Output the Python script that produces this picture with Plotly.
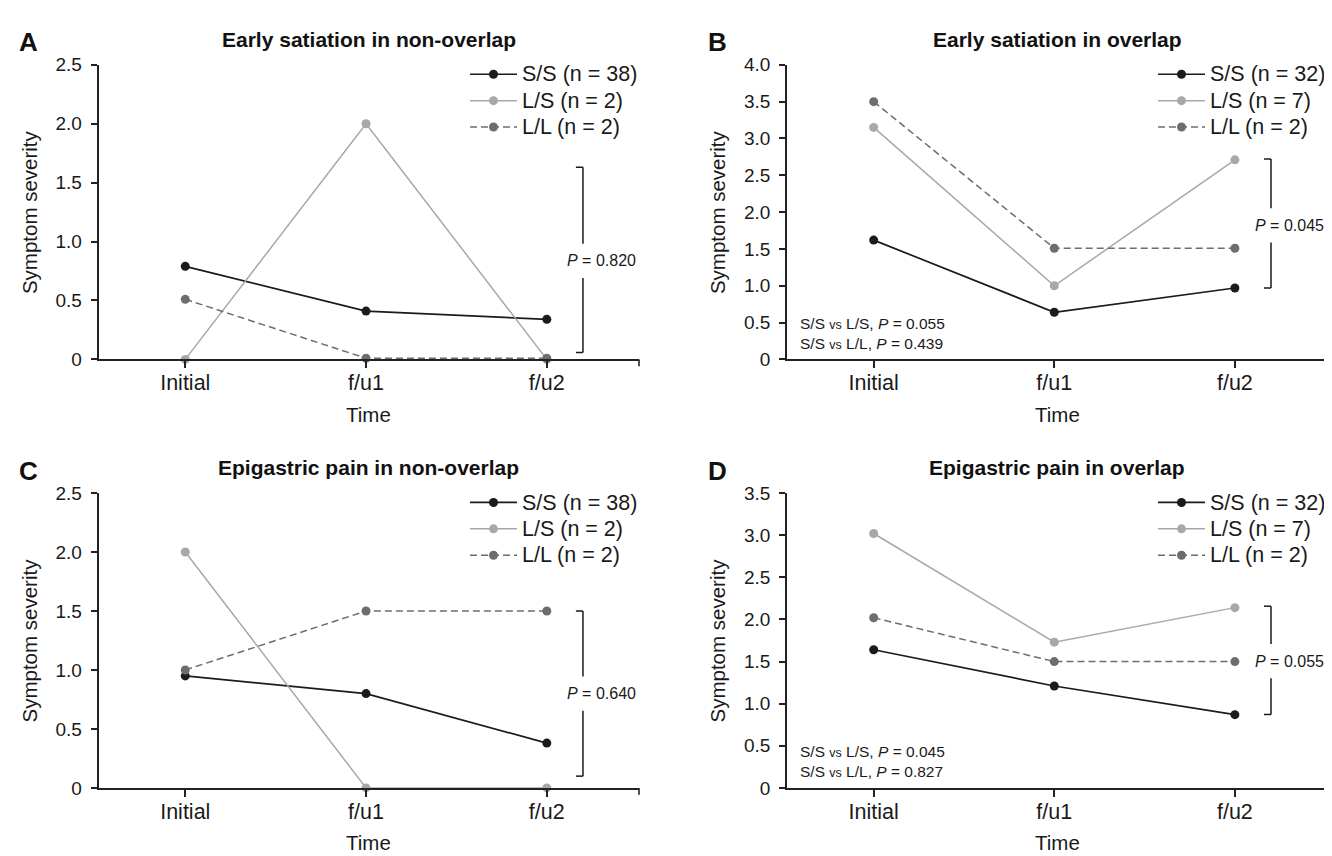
import plotly.graph_objects as go

# ---------------- data ----------------
times = ["Initial", "f/u1", "f/u2"]
groups = ["S/S", "L/S", "L/L"]
n_nonoverlap = [38, 2, 2]
n_overlap = [32, 7, 2]

# A: Early satiation in non-overlap
a_ss = [0.79, 0.41, 0.34]
a_ls = [0.0, 2.0, 0.0]
a_ll = [0.51, 0.01, 0.01]
# B: Early satiation in overlap
b_ss = [1.62, 0.64, 0.97]
b_ls = [3.15, 1.00, 2.71]
b_ll = [3.50, 1.51, 1.51]
# C: Epigastric pain in non-overlap
c_ss = [0.95, 0.80, 0.38]
c_ls = [2.0, 0.0, 0.0]
c_ll = [1.0, 1.5, 1.5]
# D: Epigastric pain in overlap
d_ss = [1.64, 1.21, 0.87]
d_ls = [3.02, 1.73, 2.14]
d_ll = [2.02, 1.50, 1.50]

titles = ["Early satiation in non-overlap", "Early satiation in overlap",
          "Epigastric pain in non-overlap", "Epigastric pain in overlap"]
letters = ["A", "B", "C", "D"]
ymax = [2.5, 4.0, 2.5, 3.5]
p_overall = ["0.820", "0.045", "0.640", "0.055"]
# bracket: top, bottom, label level
br_top = [1.63, 2.72, 1.50, 2.157]
br_bot = [0.058, 0.97, 0.10, 0.872]
br_lab = [0.836, 1.82, 0.80, 1.505]
pair_p_ls = [None, "0.055", None, "0.045"]
pair_p_ll = [None, "0.439", None, "0.827"]

panels = [
    (a_ss, a_ls, a_ll, n_nonoverlap),
    (b_ss, b_ls, b_ll, n_overlap),
    (c_ss, c_ls, c_ll, n_nonoverlap),
    (d_ss, d_ls, d_ll, n_overlap),
]

# ---------------- styling ----------------
W, H = 1332, 856
FONT = "Liberation Sans, Arial, Helvetica, sans-serif"
colors = ["#1b1b1b", "#a8a8a8", "#6d6d6d"]
dashes = ["solid", "solid", "7px,4px"]
widths = [1.7, 1.5, 1.5]
AX = "#222222"

xdom = [[90.5 / W, 631 / W], [779 / W, 1319 / W]]
ytop_px = [48, 487]
ybot_px = [350, 789.3]
ydom = [[1 - ybot_px[r] / H, 1 - ytop_px[r] / H] for r in range(2)]
xrange_ = [-0.48, 2.51]
BR_X = 2.2
P_X = 2.3
GAP_PX = 17.5
letter_x = [21, 709.5]
ytitle_x = [21, 709]
legend_x = [457, 1145]

fig = go.Figure()
annotations = []
shapes = []
layout_axes = {}

for i, (ss, ls, ll, ns) in enumerate(panels):
    col = i % 2
    row = i // 2
    k = "" if i == 0 else str(i + 1)
    xa, ya = "x" + k, "y" + k
    leg = "legend" if i == 0 else "legend" + str(i + 1)
    for g, vals in enumerate([ss, ls, ll]):
        fig.add_trace(go.Scatter(
            x=times, y=vals, xaxis=xa, yaxis=ya, mode="lines+markers",
            name=f"<span style='font-size:21.5px'>{groups[g]} (n = {ns[g]})</span>",
            line=dict(color=colors[g], width=widths[g], dash=dashes[g]),
            marker=dict(color=colors[g], size=9),
            cliponaxis=False, legend=leg, showlegend=True,
        ))
    tv = [j * 0.5 for j in range(int(ymax[i] / 0.5) + 1)]
    tt = ["0" if v == 0 else f"{v:.1f}" for v in tv]
    layout_axes["xaxis" + k] = dict(
        domain=xdom[col], anchor=ya, type="category", range=xrange_,
        showline=True, linecolor=AX, linewidth=1.6,
        ticks="outside", ticklen=7, tickcolor=AX, tickwidth=1.6,
        ticklabelstandoff=-4,
        showgrid=False, zeroline=False, fixedrange=True,
        tickfont=dict(size=21.5, color="#1a1a1a", family=FONT),
    )
    layout_axes["yaxis" + k] = dict(
        domain=ydom[row], anchor=xa, range=[0, ymax[i]],
        tickvals=tv, ticktext=tt,
        showline=True, linecolor=AX, linewidth=1.6,
        ticks="outside", ticklen=6, tickcolor=AX, tickwidth=1.6,
        ticklabelstandoff=5,
        showgrid=False, zeroline=False, fixedrange=True,
        tickfont=dict(size=19, color="#1a1a1a", family=FONT),
    )
    x0, x1 = xdom[col]
    y0, y1 = ydom[row]
    xc = (x0 + x1) / 2
    yc = (y0 + y1) / 2
    top_px = ytop_px[row]
    bot_px = ybot_px[row]
    # end tick on x axis
    shapes.append(dict(type="line", xref=xa + " domain", yref="paper",
                       x0=1, x1=1, y0=y0, y1=y0 - 7 / H,
                       line=dict(color=AX, width=1.6)))
    # panel letter
    annotations.append(dict(text=f"<b>{letters[i]}</b>", xref="paper", yref="paper",
                            x=letter_x[col] / W, y=1 - (top_px - 23) / H,
                            showarrow=False, xanchor="center", yanchor="middle",
                            font=dict(size=26, family=FONT, color="#111")))
    annotations.append(dict(text=f"<b>{titles[i]}</b>", xref="paper", yref="paper",
                            x=xc, y=1 - (top_px - 26.3) / H, showarrow=False,
                            xanchor="center", yanchor="middle",
                            font=dict(size=21, family=FONT, color="#111")))
    annotations.append(dict(text="Symptom severity", xref="paper", yref="paper",
                            x=ytitle_x[col] / W, y=yc, textangle=-90,
                            showarrow=False, xanchor="center", yanchor="middle",
                            font=dict(size=20.5, family=FONT, color="#1a1a1a")))
    annotations.append(dict(text="Time", xref="paper", yref="paper",
                            x=xc, y=1 - (bot_px + 56) / H, showarrow=False,
                            xanchor="center", yanchor="middle",
                            font=dict(size=20.5, family=FONT, color="#1a1a1a")))
    # bracket
    px_per_unit = (bot_px - top_px) / ymax[i]
    gap = GAP_PX / px_per_unit
    tick = 0.039
    line = dict(color="#1a1a1a", width=1.5)
    shapes += [
        dict(type="line", xref=xa, yref=ya, x0=BR_X, x1=BR_X, y0=br_lab[i] + gap, y1=br_top[i], line=line),
        dict(type="line", xref=xa, yref=ya, x0=BR_X, x1=BR_X, y0=br_bot[i], y1=br_lab[i] - gap, line=line),
        dict(type="line", xref=xa, yref=ya, x0=BR_X - tick, x1=BR_X, y0=br_top[i], y1=br_top[i], line=line),
        dict(type="line", xref=xa, yref=ya, x0=BR_X - tick, x1=BR_X, y0=br_bot[i], y1=br_bot[i], line=line),
    ]
    annotations.append(dict(text=f"<i>P</i> = {p_overall[i]}", xref=xa, yref=ya,
                            x=P_X, y=br_lab[i], showarrow=False,
                            xanchor="center", yanchor="middle",
                            font=dict(size=16, family=FONT, color="#1a1a1a")))
    if pair_p_ls[i]:
        vs = "<span style='font-size:12.5px'>vs</span>"
        txt = (f"S/S {vs} L/S, <i>P</i> = {pair_p_ls[i]}<br>"
               f"S/S {vs} L/L, <i>P</i> = {pair_p_ll[i]}")
        annotations.append(dict(text=txt, xref=xa + " domain", yref=ya + " domain",
                                x=0.02, y=0.02, showarrow=False, align="left",
                                xanchor="left", yanchor="bottom",
                                font=dict(size=15.5, family=FONT, color="#1a1a1a")))
    layout_axes[leg] = dict(
        x=legend_x[col] / W, y=1 - (top_px - 9) / H,
        xanchor="left", yanchor="top", bgcolor="rgba(0,0,0,0)",
        font=dict(size=18, family=FONT, color="#1a1a1a"),
        itemwidth=47, tracegroupgap=0,
    )

fig.update_layout(
    width=W, height=H, margin=dict(l=0, r=0, t=0, b=0),
    paper_bgcolor="white", plot_bgcolor="white",
    font=dict(family=FONT, color="#1a1a1a"),
    annotations=annotations, shapes=shapes,
    **layout_axes,
)
fig.write_html("out.html")
